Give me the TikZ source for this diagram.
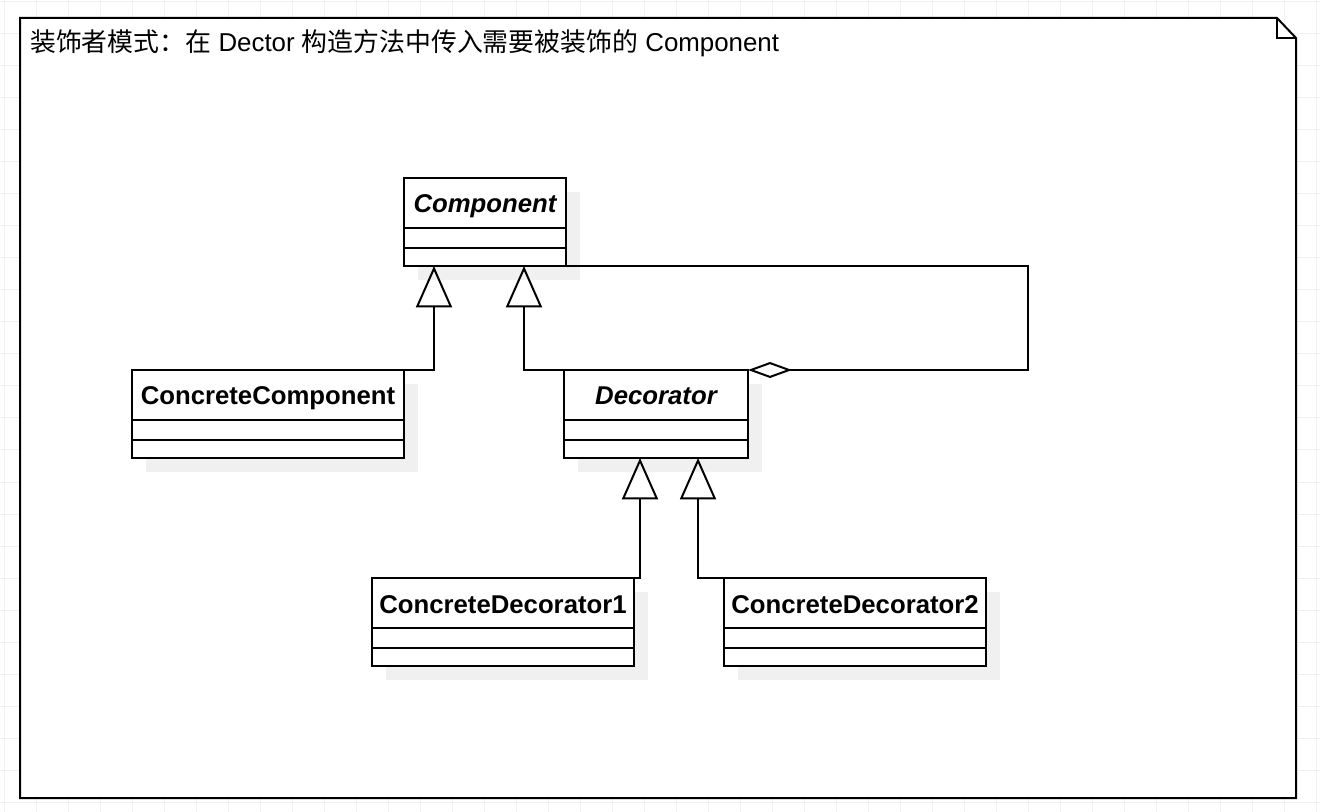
\documentclass[tikz,border=0pt]{standalone}
\usepackage{fontspec}
\setmainfont{Liberation Sans}
\newfontfamily\cjk{Noto Sans CJK SC}
\usetikzlibrary{arrows.meta,calc}
\tikzset{
  gridline/.style={draw=black!6, line width=0.75pt},
  frameline/.style={draw=black, line width=1.5pt},
  clsbox/.style={draw=black, fill=white, line width=1.5pt, inner sep=0pt, outer sep=0pt, minimum height=66pt},
  clsshadow/.style={fill=black!6},
  sepline/.style={draw=black, line width=1.5pt},
  clsname/.style={font=\fontsize{19.3pt}{22pt}\selectfont\bfseries, anchor=base, inner sep=0pt},
  absname/.style={font=\fontsize{19.3pt}{22pt}\selectfont\bfseries\itshape, anchor=base, inner sep=0pt},
  conn/.style={draw=black, line width=1.5pt},
  genarrow/.style={-{Triangle[open, length=31pt, width=27pt, line width=1.5pt]}},
  aggdiamond/.style={{Diamond[open, length=33pt, width=12pt, line width=1.5pt]}-},
}
\newcommand{\umlcls}[6]{%
  \fill[clsshadow] (#2+14,#3+14) rectangle ++(#4,88);
  \node[clsbox, minimum width=#4*0.75pt, anchor=north west] (#1) at (#2,#3) {};
  \node[#5] (#1-name) at (#2+#4/2,#3+35) {#6};
  \draw[sepline] (#2,#3+50) -- ++(#4,0);
  \draw[sepline] (#2,#3+70) -- ++(#4,0);
}
\begin{document}
\begin{tikzpicture}[x=0.75pt,y=-0.75pt]
\useasboundingbox (0,0) rectangle (1320,812);
\fill[white] (0,0) rectangle (1320,812);
\foreach \gx in {4,36,...,1320} \draw[gridline] (\gx,0) -- (\gx,812);
\foreach \gy in {2,34,...,812} \draw[gridline] (0,\gy) -- (1320,\gy);
% note frame
\draw[frameline, fill=white] (20,18) -- (1277,18) -- (1296,38) -- (1296,798) -- (20,798) -- cycle;
\draw[frameline] (1277,18) -- (1277,38) -- (1296,38);
\node[anchor=base west, inner sep=0pt, font=\fontsize{19.4pt}{22pt}\selectfont] (title) at (30,52)
  {{\cjk 装饰者模式：在} Dector {\cjk 构造方法中传入需要被装饰的} Component};
% classes
\umlcls{comp}{404}{178}{162}{absname}{Component}
\umlcls{ccomp}{132}{370}{272}{clsname}{ConcreteComponent}
\umlcls{dec}{564}{370}{184}{absname}{Decorator}
\umlcls{cd1}{372}{578}{262}{clsname}{ConcreteDecorator1}
\umlcls{cd2}{724}{578}{262}{clsname}{ConcreteDecorator2}
% generalizations
\draw[conn, genarrow] (ccomp.north east) -| ($(comp.south west)+(30,0)$);
\draw[conn, genarrow] (dec.north west) -| ($(comp.south west)+(120,0)$);
\draw[conn, genarrow] (cd1.north east) -| ($(dec.south west)+(76,0)$);
\draw[conn, genarrow] (cd2.north west) -| ($(dec.south west)+(134,0)$);
% aggregation
\draw[conn, aggdiamond] (dec.north east) -- ($(dec.north east)+(280,0)$) |- (comp.south east);
\end{tikzpicture}
\end{document}
